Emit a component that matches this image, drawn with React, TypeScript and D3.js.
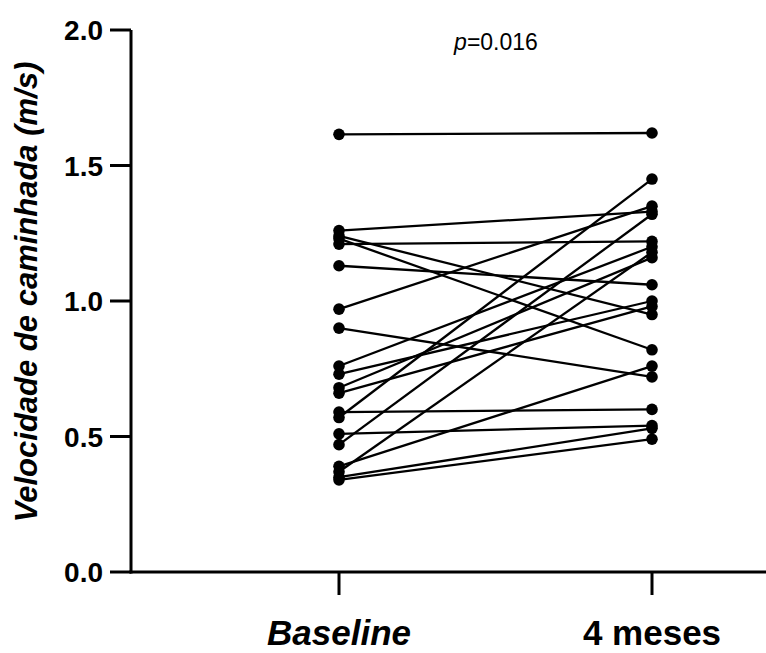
import React from "react";
import * as d3 from "d3";

const categories = ["Baseline", "4 meses"];
const baselineValues = [1.615, 1.26, 1.24, 1.23, 1.21, 1.13, 0.97, 0.90, 0.76, 0.73, 0.68, 0.66, 0.59, 0.57, 0.51, 0.47, 0.39, 0.37, 0.35, 0.34];
const monthValues = [1.62, 1.33, 0.95, 0.82, 1.22, 1.06, 1.35, 0.72, 1.20, 1.00, 1.16, 0.98, 0.60, 1.45, 0.54, 1.32, 0.76, 1.18, 0.53, 0.49];
const yTicks = [0, 0.5, 1.0, 1.5, 2.0];
const yLabel = "Velocidade de caminhada (m/s)";
const pLabel = "0.016";

const W = 766;
const H = 653;

export default function App() {
  const x = d3.scalePoint<string>().domain(categories).range([339, 652]);
  const y = d3.scaleLinear().domain([0, 2]).range([572, 30]);
  const font = "Liberation Sans, Arial, Helvetica, sans-serif";
  const x0 = x(categories[0])!;
  const x1 = x(categories[1])!;
  return (
    <div style={{ position: "absolute", left: 0, top: 0 }}>
      <svg width={W} height={H} style={{ display: "block", background: "#fff" }}>
        {baselineValues.map((b, i) => (
          <line key={"l" + i} x1={x0} y1={y(b)} x2={x1} y2={y(monthValues[i])} stroke="#000" strokeWidth={2.3} />
        ))}
        {baselineValues.map((b, i) => (
          <circle key={"b" + i} cx={x0} cy={y(b)} r={5.8} fill="#000" />
        ))}
        {monthValues.map((m, i) => (
          <circle key={"m" + i} cx={x1} cy={y(m)} r={5.8} fill="#000" />
        ))}
        <line x1={131} y1={y(2)} x2={131} y2={y(0) + 1.5} stroke="#000" strokeWidth={3} />
        {yTicks.map((t) => (
          <g key={"t" + t}>
            <line x1={110} x2={131} y1={y(t)} y2={y(t)} stroke="#000" strokeWidth={3} />
            <text x={103} y={y(t)} dy="0.36em" textAnchor="end" fontFamily={font} fontWeight="bold" fontSize={28} fill="#000">
              {d3.format(".1f")(t)}
            </text>
          </g>
        ))}
        <line x1={129.5} y1={y(0)} x2={W} y2={y(0)} stroke="#000" strokeWidth={3} />
        {categories.map((c) => (
          <line key={"xt" + c} x1={x(c)} x2={x(c)} y1={y(0)} y2={595} stroke="#000" strokeWidth={3} />
        ))}
        <text x={x0} y={645} textAnchor="middle" fontFamily={font} fontWeight="bold" fontStyle="italic" fontSize={35} fill="#000">
          {categories[0]}
        </text>
        <text x={x1} y={645} textAnchor="middle" fontFamily={font} fontWeight="bold" fontSize={35} fill="#000">
          {categories[1]}
        </text>
        <text transform="translate(37,292) rotate(-90)" textAnchor="middle" fontFamily={font} fontWeight="bold" fontStyle="italic" fontSize={31} fill="#000">
          {yLabel}
        </text>
        <text x={496} y={50} textAnchor="middle" fontFamily={font} fontSize={23} fill="#000">
          <tspan fontStyle="italic">p</tspan>={pLabel}
        </text>
      </svg>
    </div>
  );
}
